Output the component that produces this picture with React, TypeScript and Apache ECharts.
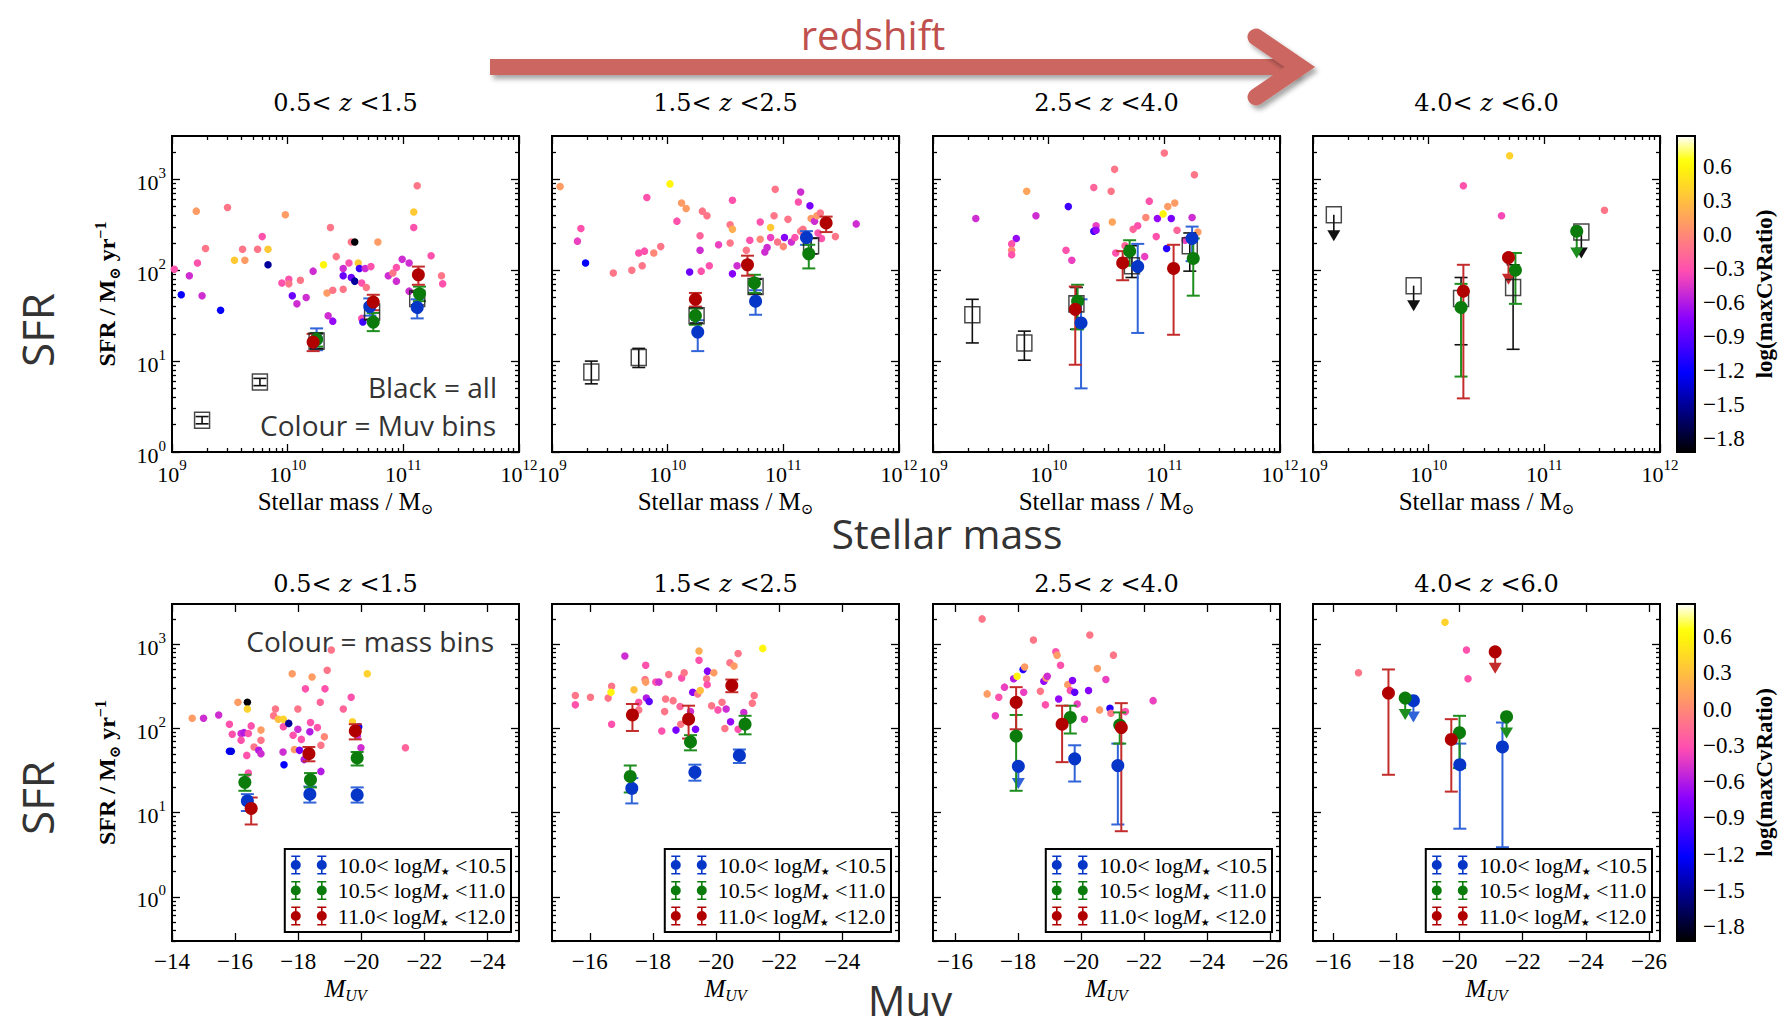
import React, { useEffect, useRef } from 'react';
import * as echarts from 'echarts';

const W = 1783;
const H = 1031;
const SERIF = "'Liberation Serif', 'DejaVu Serif', serif";
const TITLE_SERIF = "'DejaVu Serif', 'Liberation Serif', serif";
const SANS = "'Open Sans', 'Liberation Sans', sans-serif";

// ---------------- axes, ticks, labels ----------------
const MASS_RANGE = [9, 12]; // log10 stellar mass
const MASS_TICKS = [9, 10, 11, 12];
const SFR_TOP_RANGE = [0, 3.477]; // log10 SFR
const SFR_BOT_RANGE = [-0.523, 3.477];
const SFR_TICKS = [0, 1, 2, 3];
const MUV_RANGES = [[-25, -14], [-25.8, -14.8], [-26.32, -15.3], [-26.35, -15.36]];
const MUV_TICKS = [
  [-14, -16, -18, -20, -22, -24],
  [-16, -18, -20, -22, -24],
  [-16, -18, -20, -22, -24, -26],
  [-16, -18, -20, -22, -24, -26],
];
const CBAR_RANGE = [-1.92, 0.87];
const CBAR_TICKS = [-1.8, -1.5, -1.2, -0.9, -0.6, -0.3, 0, 0.3, 0.6];
const Z_TITLES = [['0.5', '1.5'], ['1.5', '2.5'], ['2.5', '4.0'], ['4.0', '6.0']];
const MASS_NAMES = ['10.0< logM⋆ <10.5', '10.5< logM⋆ <11.0', '11.0< logM⋆ <12.0'];

// ---------------- data: individual galaxies [x, logSFR, log(maxCvRatio)] ----------------
const top1Dots = [
  [9.02, 2.01, -0.3], [9.08, 1.73, -1.2], [9.15, 1.94, -0.5], [9.21, 2.65, 0.1], [9.22, 2.08, -0.3],
  [9.26, 1.72, -0.5], [9.29, 2.24, -0.1], [9.42, 1.56, -1.2], [9.48, 2.69, -0.1], [9.54, 2.11, 0.35],
  [9.61, 2.23, -0.1], [9.63, 2.11, 0.1], [9.74, 2.23, -0.1], [9.78, 2.37, -0.3], [9.83, 2.23, 0.35],
  [9.83, 2.06, -1.5], [9.98, 2.61, 0.1], [9.95, 1.86, -0.3], [10.01, 1.9, -0.3], [10.01, 1.85, -0.1],
  [10.04, 1.72, -0.85], [10.08, 1.63, -0.5], [10.11, 1.89, -0.1], [10.16, 1.7, -0.5], [10.22, 1.99, -0.5],
  [10.31, 2.06, 0.6], [10.34, 1.75, 0.1], [10.35, 1.5, -0.5], [10.39, 1.44, -0.7], [10.37, 2.47, -0.1],
  [10.42, 2.15, -0.1], [10.39, 1.78, -0.1], [10.48, 2.02, -0.5], [10.48, 1.94, -0.85], [10.48, 1.79, -0.1],
  [10.53, 2.08, -0.3], [10.55, 2.31, -0.1], [10.58, 2.31, -1.9], [10.55, 1.92, -0.85], [10.58, 1.88, -1.5],
  [10.61, 2.08, 0.35], [10.62, 2.02, -1.0], [10.64, 1.86, -0.3], [10.67, 2.02, -0.5], [10.68, 1.81, -0.1],
  [10.72, 2.04, -0.3], [10.78, 2.31, 0.1], [10.64, 1.47, -0.3], [10.65, 1.43, -1.0], [10.87, 1.94, -0.5],
  [10.91, 1.97, -0.1], [10.94, 2.03, -0.3], [10.94, 1.88, -0.5], [10.99, 2.12, -0.5], [11.05, 2.08, -0.5],
  [11.05, 1.77, -0.5], [11.09, 2.47, -0.3], [11.09, 2.64, 0.35], [11.12, 2.93, -0.1], [11.24, 2.16, -0.3],
  [11.33, 1.94, -0.1], [11.34, 1.85, -0.3],
];
const top2Dots = [
  [9.07, 2.92, 0.1], [9.25, 2.46, -0.3], [9.22, 2.32, -0.4], [9.29, 2.08, -1.2], [9.53, 1.97, -0.1],
  [9.69, 2.0, -0.1], [9.75, 2.19, -0.3], [9.78, 2.05, -0.1], [9.8, 2.21, -0.3], [9.82, 2.8, -0.3],
  [9.88, 2.19, 0.0], [9.94, 2.26, -0.1], [10.02, 2.95, 0.6], [10.08, 2.54, -0.3], [10.12, 2.74, 0.1],
  [10.16, 2.68, 0.1], [10.19, 1.98, -0.85], [10.28, 2.22, -0.5], [10.28, 2.38, -0.2], [10.29, 1.99, -0.3],
  [10.3, 2.65, -0.1], [10.34, 2.6, -0.1], [10.36, 2.05, -0.3], [10.44, 2.28, -0.4], [10.54, 2.3, -0.1],
  [10.54, 2.5, -0.1], [10.56, 2.77, -0.3], [10.56, 2.45, 0.2], [10.56, 1.96, -0.75], [10.6, 2.05, -0.5],
  [10.68, 2.22, -0.1], [10.71, 2.33, -0.3], [10.8, 2.53, -0.3], [10.8, 2.34, 0.0], [10.84, 2.2, -0.5],
  [10.86, 2.25, -0.5], [10.89, 2.47, 0.35], [10.89, 2.36, -0.4], [10.92, 2.6, -0.1], [10.93, 2.89, -0.1],
  [10.95, 2.31, -0.1], [11.0, 2.26, 0.0], [11.01, 2.36, -0.75], [11.04, 2.56, -0.1], [11.07, 2.31, -0.5],
  [11.1, 2.36, -0.3], [11.13, 2.75, -0.3], [11.15, 2.86, -0.5], [11.15, 2.43, -0.1], [11.17, 2.45, -0.1],
  [11.23, 2.71, -0.8], [11.24, 2.57, 0.1], [11.27, 2.54, -0.5], [11.29, 2.6, 0.1], [11.3, 2.41, -0.3],
  [11.32, 2.63, -0.1], [11.33, 2.35, -0.3], [11.45, 2.37, -0.1], [11.63, 2.51, -0.5],
];
const top3Dots = [
  [9.37, 2.57, -0.5], [9.72, 2.35, -0.7], [9.68, 2.29, -0.3], [9.68, 2.22, 0.0], [9.68, 2.17, -0.3],
  [9.81, 2.87, 0.15], [9.89, 2.6, -0.5], [10.15, 2.22, -0.3], [10.17, 2.7, -1.0], [10.2, 2.11, -0.4],
  [10.39, 2.91, -0.2], [10.41, 2.49, -0.4], [10.39, 2.43, -1.0], [10.41, 2.44, -0.7], [10.54, 2.87, -0.1],
  [10.55, 2.53, 0.15], [10.57, 3.11, -0.1], [10.58, 2.19, -0.3], [10.66, 2.27, -0.2], [10.73, 2.45, -0.2],
  [10.77, 2.49, -0.3], [10.83, 2.15, -0.4], [10.84, 2.58, 0.0], [10.87, 2.76, -0.3], [10.93, 2.37, -0.3],
  [10.94, 2.57, -0.7], [10.99, 2.62, 0.6], [11.0, 3.29, -0.1], [11.02, 2.24, -1.1], [11.03, 2.7, 0.1],
  [11.06, 2.57, -0.8], [11.09, 2.74, 0.1], [11.11, 2.44, -0.2], [11.18, 2.33, -0.4], [11.24, 2.58, -0.5],
  [11.26, 3.05, -0.1], [11.29, 2.42, 0.1],
];
const top4Dots = [[10.3, 2.93, -0.3], [10.63, 2.6, -0.35], [10.7, 3.26, 0.4], [11.52, 2.66, -0.1]];

const bot1Dots = [
  [-14.64, 2.12, 0.1], [-15.0, 2.12, -0.5], [-15.48, 2.16, -0.5], [-15.82, 2.05, -0.3], [-15.82, 1.73, -1.2],
  [-15.88, 1.73, -1.3], [-15.91, 1.93, -0.3], [-16.09, 2.31, 0.1], [-16.19, 1.94, -0.5], [-16.19, 1.86, -0.3],
  [-16.28, 1.95, -0.6], [-16.39, 2.31, -1.9], [-16.39, 2.23, 0.4], [-16.42, 1.94, -0.3], [-16.51, 2.03, -0.3],
  [-16.37, 1.68, -0.3], [-16.42, 1.47, -0.3], [-16.6, 1.78, -0.1], [-16.75, 1.74, -0.6], [-16.82, 1.98, 0.1],
  [-16.82, 1.86, -0.1], [-16.82, 1.7, -0.5], [-17.28, 2.23, -0.1], [-17.22, 2.15, -0.1], [-17.37, 2.11, 0.3],
  [-17.52, 1.72, -0.5], [-17.53, 2.02, -0.3], [-17.53, 2.11, 0.4], [-17.55, 1.57, -1.2], [-17.7, 2.06, -1.5],
  [-17.81, 2.65, 0.1], [-17.84, 1.92, -0.3], [-17.88, 1.75, 0.1], [-17.99, 2.23, -0.1], [-17.99, 1.99, -0.5],
  [-18.04, 1.74, -0.8], [-18.1, 1.87, -0.3], [-18.19, 1.63, -0.6], [-18.23, 2.47, -0.3], [-18.39, 2.07, -0.3],
  [-18.37, 1.96, -0.6], [-18.44, 2.61, 0.1], [-18.61, 2.01, -0.3], [-18.7, 2.31, -0.2], [-18.72, 1.8, -0.1],
  [-18.72, 1.49, -0.6], [-18.83, 1.9, 0.0], [-18.85, 2.47, -0.3], [-18.92, 2.69, -0.1], [-19.05, 2.93, -0.1],
  [-19.43, 2.23, -0.2], [-19.68, 2.37, -0.3], [-19.72, 2.08, 0.4], [-19.88, 1.91, -0.5], [-19.92, 2.02, -1.2],
  [-19.99, 1.77, -0.5], [-20.19, 2.65, 0.4], [-21.4, 1.77, -0.2],
];
const bot2Dots = [
  [-15.54, 2.39, -0.1], [-15.54, 2.28, -0.3], [-16.02, 2.37, -0.1], [-16.58, 2.36, -0.1], [-16.69, 2.5, -0.1],
  [-16.69, 2.05, -0.3], [-16.67, 2.43, 0.6], [-17.11, 2.86, -0.5], [-17.4, 2.46, 0.3], [-17.55, 2.31, -0.3],
  [-17.55, 2.22, -0.1], [-17.77, 2.75, -0.3], [-17.79, 2.36, -0.6], [-17.88, 2.32, -0.9], [-17.75, 2.58, -0.1],
  [-17.77, 2.55, 0.1], [-18.09, 2.55, -0.3], [-18.19, 2.55, -0.5], [-18.28, 1.97, -0.3], [-18.37, 2.2, -0.1],
  [-18.4, 2.35, -0.1], [-18.5, 2.64, -0.1], [-18.64, 2.33, -0.1], [-18.73, 1.98, -0.8], [-18.86, 2.26, -0.2],
  [-18.91, 2.6, -0.3], [-18.99, 2.66, -0.1], [-18.88, 2.05, -0.1], [-19.19, 2.2, -0.5], [-19.26, 2.43, -0.75],
  [-19.35, 1.99, -0.8], [-19.42, 2.41, -0.1], [-19.46, 2.92, 0.2], [-19.46, 2.81, -0.3], [-19.5, 2.45, 0.3],
  [-19.7, 2.59, -0.1], [-19.73, 2.68, -0.75], [-19.72, 2.52, -0.3], [-19.86, 2.27, -0.1], [-19.93, 2.66, 0.1],
  [-20.06, 2.22, -0.3], [-20.19, 2.31, -0.1], [-20.32, 2.23, -0.5], [-20.28, 2.0, -0.1], [-20.44, 2.78, -0.1],
  [-20.46, 2.08, -0.7], [-20.57, 2.74, 0.1], [-20.7, 2.89, -0.1], [-20.7, 1.99, -0.3], [-20.88, 2.19, -0.5],
  [-21.15, 2.3, -0.1], [-21.21, 2.39, -0.1], [-21.48, 2.95, 0.6],
];
const bot3Dots = [
  [-16.86, 3.3, -0.1], [-17.02, 2.41, 0.1], [-17.28, 2.15, -0.4], [-17.39, 2.37, -0.3], [-17.57, 2.49, -0.4],
  [-17.86, 2.59, -0.6], [-17.97, 2.62, 0.6], [-18.16, 2.7, -1.1], [-18.21, 2.73, 0.1], [-18.18, 2.43, -0.4],
  [-18.49, 3.05, -0.1], [-18.71, 2.44, -0.1], [-18.82, 2.56, -0.7], [-18.89, 2.6, 0.1], [-18.93, 2.62, -0.5],
  [-18.87, 2.28, -0.3], [-19.2, 2.91, -0.3], [-19.24, 2.87, 0.1], [-19.35, 2.75, -0.3], [-19.29, 2.35, -0.7],
  [-19.58, 2.52, 0.1], [-19.66, 2.45, -0.3], [-19.73, 2.57, -0.75], [-19.8, 2.43, -0.9], [-19.88, 2.29, -0.4],
  [-20.11, 2.11, -0.4], [-20.24, 2.45, -0.75], [-20.28, 3.11, -0.1], [-20.52, 2.71, 0.1], [-20.59, 2.22, 0.1],
  [-20.79, 2.58, -0.4], [-20.92, 2.24, -1.1], [-20.95, 2.18, -0.1], [-21.03, 2.87, -0.1], [-21.41, 2.2, -0.3],
  [-22.29, 2.33, -0.4],
];
const bot4Dots = [[-16.8, 2.66, -0.1], [-19.54, 3.26, 0.4], [-20.22, 2.93, -0.3], [-20.27, 2.59, -0.3]];

// ---------------- data: binned medians [x, logSFR, lo, hi, upperLimit, class] ----------------
// class: 0 = all (black squares), 1 = blue, 2 = green, 3 = red
const top1Bins = [
  [9.26, 0.35, 0.31, 0.39, 0, 0], [9.76, 0.77, 0.73, 0.81, 0, 0], [10.25, 1.22, 1.14, 1.3, 0, 0],
  [10.73, 1.54, 1.46, 1.62, 0, 0], [11.12, 1.69, 1.62, 1.76, 0, 0],
  [10.25, 1.24, 1.12, 1.36, 0, 1], [10.71, 1.6, 1.5, 1.69, 0, 1], [11.12, 1.59, 1.47, 1.68, 0, 1],
  [10.25, 1.24, 1.16, 1.31, 0, 2], [10.74, 1.43, 1.33, 1.53, 0, 2], [11.14, 1.74, 1.66, 1.82, 0, 2],
  [10.22, 1.21, 1.11, 1.3, 0, 3], [10.74, 1.65, 1.56, 1.73, 0, 3], [11.13, 1.95, 1.84, 2.04, 0, 3],
];
const top2Bins = [
  [9.34, 0.88, 0.75, 1.0, 0, 0], [9.75, 1.04, 0.93, 1.14, 0, 0], [10.25, 1.5, 1.42, 1.58, 0, 0],
  [10.76, 1.82, 1.74, 1.9, 0, 0], [11.24, 2.27, 2.18, 2.35, 0, 0],
  [10.26, 1.32, 1.11, 1.45, 0, 1], [10.76, 1.66, 1.51, 1.78, 0, 1], [11.2, 2.36, 2.28, 2.43, 0, 1],
  [10.24, 1.5, 1.4, 1.58, 0, 2], [10.75, 1.86, 1.75, 1.95, 0, 2], [11.22, 2.18, 2.02, 2.28, 0, 2],
  [10.24, 1.68, 1.6, 1.75, 0, 3], [10.69, 2.06, 1.94, 2.16, 0, 3], [11.37, 2.52, 2.42, 2.59, 0, 3],
];
const top3Bins = [
  [9.34, 1.51, 1.2, 1.68, 0, 0], [9.79, 1.2, 1.01, 1.33, 0, 0], [10.24, 1.63, 1.35, 1.81, 0, 0],
  [10.72, 2.05, 1.92, 2.27, 0, 0], [11.22, 2.27, 1.99, 2.41, 0, 0],
  [10.28, 1.42, 0.7, 1.68, 0, 1], [10.77, 2.04, 1.31, 2.29, 0, 1], [11.24, 2.35, 2.1, 2.48, 0, 1],
  [10.25, 1.66, 1.35, 1.84, 0, 2], [10.7, 2.21, 2.05, 2.33, 0, 2], [11.25, 2.13, 1.72, 2.35, 0, 2],
  [10.23, 1.57, 0.96, 1.82, 0, 3], [10.64, 2.08, 1.89, 2.21, 0, 3], [11.08, 2.02, 1.29, 2.28, 0, 3],
];
const top4Bins = [
  [9.18, 2.61, 2.32, 2.61, 1, 0], [9.87, 1.83, 1.55, 1.83, 1, 0], [10.28, 1.69, 1.18, 1.92, 0, 0],
  [10.73, 1.81, 1.13, 2.06, 0, 0], [11.32, 2.42, 2.13, 2.42, 1, 0],
  [10.28, 1.59, 0.83, 1.85, 0, 2], [10.75, 2.0, 1.63, 2.19, 0, 2], [11.28, 2.43, 2.13, 2.43, 1, 2],
  [10.3, 1.77, 0.59, 2.06, 0, 3], [10.69, 2.14, 1.84, 2.14, 1, 3],
];
const bot1Bins = [
  [-16.39, 1.14, 1.02, 1.22, 0, 1], [-18.37, 1.22, 1.12, 1.31, 0, 1], [-19.87, 1.21, 1.12, 1.3, 0, 1],
  [-16.31, 1.36, 1.26, 1.45, 0, 2], [-18.39, 1.39, 1.3, 1.47, 0, 2], [-19.87, 1.65, 1.56, 1.72, 0, 2],
  [-16.51, 1.05, 0.86, 1.18, 0, 3], [-18.34, 1.7, 1.61, 1.78, 0, 3], [-19.81, 1.97, 1.87, 2.05, 0, 3],
];
const bot2Bins = [
  [-17.33, 1.29, 1.11, 1.41, 0, 1], [-19.33, 1.48, 1.38, 1.57, 0, 1], [-20.74, 1.68, 1.59, 1.75, 0, 1],
  [-17.28, 1.43, 1.24, 1.56, 0, 2], [-19.19, 1.84, 1.74, 1.92, 0, 2], [-20.92, 2.05, 1.93, 2.15, 0, 2],
  [-17.35, 2.16, 1.97, 2.29, 0, 3], [-19.13, 2.11, 1.88, 2.27, 0, 3], [-20.5, 2.51, 2.43, 2.58, 0, 3],
];
const bot3Bins = [
  [-18.01, 1.55, 1.28, 1.55, 1, 1], [-19.8, 1.64, 1.37, 1.8, 0, 1], [-21.17, 1.56, 0.86, 1.82, 0, 1],
  [-17.94, 1.91, 1.26, 2.16, 0, 2], [-19.66, 2.13, 1.94, 2.27, 0, 2], [-21.23, 2.04, 1.82, 2.19, 0, 2],
  [-17.94, 2.31, 1.99, 2.49, 0, 3], [-19.4, 2.05, 1.6, 2.27, 0, 3], [-21.28, 2.01, 0.78, 2.3, 0, 3],
];
const bot4Bins = [
  [-18.54, 2.33, 2.07, 2.33, 1, 1], [-20.01, 1.57, 0.81, 1.82, 0, 1], [-21.36, 1.78, 0.59, 2.07, 0, 1],
  [-18.28, 2.36, 2.1, 2.36, 1, 2], [-20.0, 1.95, 1.53, 2.15, 0, 2], [-21.49, 2.14, 1.88, 2.14, 1, 2],
  [-17.75, 2.42, 1.45, 2.7, 0, 3], [-19.74, 1.87, 1.25, 2.11, 0, 3], [-21.13, 2.91, 2.65, 2.91, 1, 3],
];

const TOP_DOTS = [top1Dots, top2Dots, top3Dots, top4Dots];
const BOT_DOTS = [bot1Dots, bot2Dots, bot3Dots, bot4Dots];
const TOP_BINS = [top1Bins, top2Bins, top3Bins, top4Bins];
const BOT_BINS = [bot1Bins, bot2Bins, bot3Bins, bot4Bins];

// ---------------- layout & style ----------------
const PANEL_LEFT = [172, 552, 933, 1313];
const PANEL_W = 347;
const ROW_TOP = [136, 604];
const ROW_H = [316, 337];
const CBAR_LEFT = 1677;
const CBAR_W = 18;
const MARK = ['#111111', '#0636c8', '#0b7b0b', '#b00000'];
const ERR = ['#111111', '#3064d8', '#1e8e1e', '#c42c2c'];
const ARROW = '#cc6660';
const SLIDE_TEXT = '#333333';

function gnuplot2(t: number): string {
  const c = (v: number) => Math.round(255 * Math.max(0, Math.min(1, v)));
  const r = t / 0.32 - 0.78125;
  const g = 2 * t - 0.84;
  const b = t < 0.25 ? 4 * t : t < 0.92 ? -2 * t + 1.84 : t / 0.08 - 11.5;
  return `rgb(${c(r)},${c(g)},${c(b)})`;
}
const CMAP = Array.from({ length: 41 }, (_, i) => gnuplot2(i / 40));

function minorLog(range: number[]): number[] {
  const out: number[] = [];
  for (let d = Math.floor(range[0]); d <= Math.floor(range[1]); d++) {
    for (let k = 2; k <= 9; k++) {
      const v = d + Math.log10(k);
      if (v > range[0] + 1e-6 && v < range[1] - 1e-6) out.push(v);
    }
  }
  return out;
}

const POW_RICH = {
  b: { fontFamily: SERIF, fontSize: 22, color: '#000', lineHeight: 28, verticalAlign: 'bottom' },
  p: { fontFamily: SERIF, fontSize: 15, color: '#000', lineHeight: 17, verticalAlign: 'top' },
};
const powFmt = (v: number) => `{b|10}{p|${Math.round(v)}}`;
const minusFmt = (v: number) => (v < 0 ? '\u2212' + Math.abs(v) : String(v));

function mkAxis(gridIndex: number, range: number[], position: string, ticks: number[], len: number, extra: any = {}) {
  return {
    type: 'value',
    gridIndex,
    position,
    min: range[0],
    max: range[1],
    axisLine: { show: false, onZero: false },
    splitLine: { show: false },
    axisTick: { show: true, inside: true, length: len, customValues: ticks, lineStyle: { color: '#000', width: 1.3 } },
    axisLabel: { show: false },
    ...extra,
  };
}

function renderErr(params: any, api: any) {
  const x = api.value(0);
  const y = api.value(1);
  const lo = api.value(2);
  const hi = api.value(3);
  const ul = api.value(4);
  const cls = api.value(5);
  const c = ERR[cls];
  const st = { stroke: c, lineWidth: cls === 0 ? 1.6 : 2 };
  const p = api.coord([x, y]);
  if (ul) {
    const t = api.coord([x, lo]);
    return {
      type: 'group',
      children: [
        { type: 'line', shape: { x1: p[0], y1: p[1], x2: t[0], y2: t[1] - 9 }, style: st },
        { type: 'polygon', shape: { points: [[t[0] - 6.5, t[1] - 11], [t[0] + 6.5, t[1] - 11], [t[0], t[1]]] }, style: { fill: c } },
      ],
    };
  }
  const a = api.coord([x, hi]);
  const b = api.coord([x, lo]);
  const cw = 6.5;
  return {
    type: 'group',
    children: [
      { type: 'line', shape: { x1: a[0], y1: a[1], x2: b[0], y2: b[1] }, style: st },
      { type: 'line', shape: { x1: a[0] - cw, y1: a[1], x2: a[0] + cw, y2: a[1] }, style: st },
      { type: 'line', shape: { x1: b[0] - cw, y1: b[1], x2: b[0] + cw, y2: b[1] }, style: st },
    ],
  };
}

const LEG_ICON =
  'path://M1 0H10V1.6H1Z M4.7 0H6.3V19H4.7Z M1 17.4H10V19H1Z M0.5 9.5A5 5 0 1 1 10.5 9.5A5 5 0 1 1 0.5 9.5Z ' +
  'M27 0H36V1.6H27Z M30.7 0H32.3V19H30.7Z M27 17.4H36V19H27Z M26.5 9.5A5 5 0 1 1 36.5 9.5A5 5 0 1 1 26.5 9.5Z';
const LEG_RICH = {
  f: { fontFamily: SERIF, fontSize: 22, color: '#000', lineHeight: 22, padding: [0, 0, 0, 6] },
  a: { fontFamily: SERIF, fontSize: 22, color: '#000', lineHeight: 22 },
  i: { fontFamily: SERIF, fontSize: 22, fontStyle: 'italic', color: '#000', lineHeight: 22 },
  s: { fontFamily: "'DejaVu Sans', sans-serif", fontSize: 10, color: '#000', lineHeight: 12, verticalAlign: 'bottom' },
};
const legFmt = (name: string) => {
  const m = name.match(/^(.*)< logM⋆ <(.*)$/);
  if (!m) return name;
  return `{f|${m[1]}< log}{i|M}{s|\u2605}{a| <${m[2]}}`;
};

function buildOption() {
  const grid: any[] = [];
  const xAxis: any[] = [];
  const yAxis: any[] = [];
  const series: any[] = [];
  const legend: any[] = [];
  const dotSeries: number[] = [];

  for (let row = 0; row < 2; row++) {
    for (let col = 0; col < 4; col++) {
      const gi = grid.length;
      const left = PANEL_LEFT[col];
      grid.push({
        left, top: ROW_TOP[row], width: PANEL_W, height: ROW_H[row],
        show: true, borderColor: '#000', borderWidth: 2, backgroundColor: 'transparent',
      });
      const xr = row === 0 ? MASS_RANGE : MUV_RANGES[col];
      const yr = row === 0 ? SFR_TOP_RANGE : SFR_BOT_RANGE;
      const inv = row === 1;
      const xMajor = row === 0 ? MASS_TICKS : MUV_TICKS[col];
      const xMinor = row === 0 ? minorLog(xr) : [];
      const yMinor = minorLog(yr);

      const xi = xAxis.length;
      const xLabel =
        row === 0
          ? { show: true, customValues: xMajor, formatter: powFmt, rich: POW_RICH, margin: 5 }
          : { show: true, customValues: xMajor, formatter: minusFmt, fontFamily: SERIF, fontSize: 23, color: '#000', margin: 9 };
      const xName =
        row === 0
          ? {
              name: '{a|Stellar mass / M}{s|⊙}', nameLocation: 'middle', nameGap: 34,
              nameTextStyle: { rich: {
                a: { fontFamily: SERIF, fontSize: 25, color: '#000', lineHeight: 30 },
                s: { fontFamily: SERIF, fontSize: 15, color: '#000', lineHeight: 14, verticalAlign: 'bottom' },
              } },
            }
          : {
              name: '{i|M}{s|UV}', nameLocation: 'middle', nameGap: 32,
              nameTextStyle: { rich: {
                i: { fontFamily: SERIF, fontSize: 25, fontStyle: 'italic', color: '#000', lineHeight: 30 },
                s: { fontFamily: SERIF, fontSize: 16, fontStyle: 'italic', color: '#000', lineHeight: 14, verticalAlign: 'bottom' },
              } },
            };
      xAxis.push(mkAxis(gi, xr, 'bottom', xMajor, 8, { inverse: inv, axisLabel: xLabel, ...xName }));
      if (xMinor.length) xAxis.push(mkAxis(gi, xr, 'bottom', xMinor, 4, { inverse: inv }));
      xAxis.push(mkAxis(gi, xr, 'top', xMajor, 8, { inverse: inv }));
      if (xMinor.length) xAxis.push(mkAxis(gi, xr, 'top', xMinor, 4, { inverse: inv }));

      const yi = yAxis.length;
      const yExtra =
        col === 0
          ? {
              axisLabel: { show: true, customValues: SFR_TICKS, formatter: powFmt, rich: POW_RICH, margin: 6 },
              name: '{b|SFR / M}{s|⊙}{b| yr}{p|\u22121}', nameLocation: 'middle', nameGap: 50, nameRotate: 90,
              nameTextStyle: { rich: {
                b: { fontFamily: SERIF, fontSize: 24, fontWeight: 'bold', color: '#000', lineHeight: 30 },
                s: { fontFamily: SERIF, fontSize: 15, fontWeight: 'bold', color: '#000', lineHeight: 12, verticalAlign: 'bottom' },
                p: { fontFamily: SERIF, fontSize: 16, fontWeight: 'bold', color: '#000', lineHeight: 14, verticalAlign: 'top' },
              } },
            }
          : {};
      yAxis.push(mkAxis(gi, yr, 'left', SFR_TICKS, 8, yExtra));
      yAxis.push(mkAxis(gi, yr, 'left', yMinor, 4));
      yAxis.push(mkAxis(gi, yr, 'right', SFR_TICKS, 8));
      yAxis.push(mkAxis(gi, yr, 'right', yMinor, 4));

      const dots = row === 0 ? TOP_DOTS[col] : BOT_DOTS[col];
      const bins = row === 0 ? TOP_BINS[col] : BOT_BINS[col];

      dotSeries.push(series.length);
      series.push({
        type: 'scatter', name: `galaxies ${gi}`, xAxisIndex: xi, yAxisIndex: yi, data: dots,
        symbolSize: 7.5, z: 2, silent: true, itemStyle: { opacity: 1 },
      });
      series.push({
        type: 'custom', name: `errors ${gi}`, xAxisIndex: xi, yAxisIndex: yi, data: bins,
        renderItem: renderErr, z: 3, silent: true, clip: false,
      });
      const all = bins.filter((b) => b[5] === 0);
      if (all.length) {
        series.push({
          type: 'scatter', name: 'all', xAxisIndex: xi, yAxisIndex: yi, data: all.map((b) => [b[0], b[1]]),
          symbol: 'rect', symbolSize: [15, 16], z: 4, silent: true,
          itemStyle: { color: 'transparent', borderColor: '#1a1a1a', borderWidth: 1.5 },
        });
      }
      [1, 2, 3].forEach((c) => {
        const d = bins.filter((b) => b[5] === c);
        if (!d.length) return;
        series.push({
          type: 'scatter', name: row === 1 ? MASS_NAMES[c - 1] : `Muv bin ${c}`,
          xAxisIndex: xi, yAxisIndex: yi, data: d.map((b) => [b[0], b[1]]),
          symbolSize: 13, z: 5, silent: true, itemStyle: { color: MARK[c], opacity: 1 },
        });
      });

      if (row === 1) {
        legend.push({
          orient: 'vertical', right: W - (left + PANEL_W) + 8, top: 849,
          data: MASS_NAMES, icon: LEG_ICON, itemWidth: 36, itemHeight: 19, itemGap: 3.5,
          padding: [5, 5, 5, 6], borderColor: '#000', borderWidth: 2, borderRadius: 0,
          backgroundColor: '#fff', selectedMode: false, formatter: legFmt,
          textStyle: { fontFamily: SERIF, fontSize: 22, color: '#000', rich: LEG_RICH },
        });
      }
    }
  }

  // colourbars
  for (let row = 0; row < 2; row++) {
    const gi = grid.length;
    grid.push({ left: CBAR_LEFT, top: ROW_TOP[row], width: CBAR_W, height: ROW_H[row], show: false });
    xAxis.push({ type: 'value', gridIndex: gi, min: 0, max: 1, show: false });
    yAxis.push({
      type: 'value', gridIndex: gi, position: 'right', min: CBAR_RANGE[0], max: CBAR_RANGE[1],
      axisLine: { show: false, onZero: false }, splitLine: { show: false },
      axisTick: { show: true, inside: true, length: 5, customValues: CBAR_TICKS, lineStyle: { color: '#000', width: 1.3 } },
      axisLabel: {
        show: true, customValues: CBAR_TICKS, margin: 8, fontFamily: SERIF, fontSize: 23, color: '#000',
        formatter: (v: number) => (Math.abs(v) < 1e-9 ? '0.0' : (v < 0 ? '\u2212' : '') + Math.abs(v).toFixed(1)),
      },
      name: 'log(maxCvRatio)', nameLocation: 'middle', nameRotate: 90, nameGap: 58,
      nameTextStyle: { fontFamily: SERIF, fontSize: 23, fontWeight: 'bold', color: '#000' },
    });
  }

  const stops = CMAP.map((c, i) => ({ offset: i / (CMAP.length - 1), color: c }));
  const graphic: any[] = [];
  for (let row = 0; row < 2; row++) {
    graphic.push({
      type: 'rect', silent: true, z: 10,
      shape: { x: CBAR_LEFT, y: ROW_TOP[row], width: CBAR_W, height: ROW_H[row] },
      style: { fill: new echarts.graphic.LinearGradient(0, 1, 0, 0, stops), stroke: '#000', lineWidth: 2 },
    });
  }
  // redshift arrow
  graphic.push({
    type: 'rect', silent: true, z: 10,
    shape: { x: 490, y: 59, width: 808, height: 16 },
    style: { fill: ARROW, shadowBlur: 5, shadowOffsetX: 3, shadowOffsetY: 4, shadowColor: 'rgba(0,0,0,0.35)' },
  });
  graphic.push({
    type: 'polyline', silent: true, z: 10,
    shape: { points: [[1256, 37], [1300, 67], [1256, 97]] },
    style: { stroke: ARROW, lineWidth: 17, lineCap: 'round', lineJoin: 'miter', fill: null,
      shadowBlur: 5, shadowOffsetX: 3, shadowOffsetY: 4, shadowColor: 'rgba(0,0,0,0.35)' },
  });
  const txt = (text: string, x: number, y: number, size: number, fill: string, align: string, extra: any = {}) => ({
    type: 'text', silent: true, z: 20, x, y, ...extra,
    style: { text, fill, font: `${size}px ${SANS}`, fontSize: size, fontFamily: SANS, lineHeight: size,
      align, textAlign: align, verticalAlign: 'middle', textVerticalAlign: 'middle' },
  });
  graphic.push(txt('redshift', 873, 34, 40, '#c0504d', 'center'));
  graphic.push(txt('Stellar mass', 947, 533, 41, SLIDE_TEXT, 'center'));
  graphic.push(txt('Muv', 910, 999, 42, SLIDE_TEXT, 'center'));
  graphic.push(txt('SFR', 37, 330, 44, SLIDE_TEXT, 'center', { rotation: Math.PI / 2 }));
  graphic.push(txt('SFR', 37, 798, 44, SLIDE_TEXT, 'center', { rotation: Math.PI / 2 }));
  graphic.push(txt('Black = all', 497, 387, 28, SLIDE_TEXT, 'right'));
  graphic.push(txt('Colour = Muv bins', 496, 425, 28, SLIDE_TEXT, 'right'));
  graphic.push(txt('Colour = mass bins', 494, 641, 28, SLIDE_TEXT, 'right'));

  // panel titles
  for (let row = 0; row < 2; row++) {
    for (let col = 0; col < 4; col++) {
      const [a, b] = Z_TITLES[col];
      graphic.push({
        type: 'text', silent: true, z: 20,
        x: PANEL_LEFT[col] + PANEL_W / 2, y: row === 0 ? 103 : 584,
        style: {
          text: `{n|${a}< }{z|z}{n| <${b}}`,
          rich: {
            n: { fontFamily: TITLE_SERIF, fontSize: 24, fill: '#000', color: '#000' },
            z: { fontFamily: TITLE_SERIF, fontSize: 24, fontStyle: 'italic', fill: '#000', color: '#000' },
          },
          align: 'center', textAlign: 'center', verticalAlign: 'middle', textVerticalAlign: 'middle',
        },
      });
    }
  }

  return {
    animation: false,
    backgroundColor: '#ffffff',
    grid,
    xAxis,
    yAxis,
    series,
    legend,
    graphic: { elements: graphic },
    visualMap: [{
      type: 'continuous', show: false, min: CBAR_RANGE[0], max: CBAR_RANGE[1], dimension: 2,
      seriesIndex: dotSeries, inRange: { color: CMAP },
    }],
  };
}

export default function App() {
  const ref = useRef<HTMLDivElement>(null);
  useEffect(() => {
    document.body.style.margin = '0';
    const chart = echarts.init(ref.current as HTMLDivElement, null, { renderer: 'svg', width: W, height: H });
    chart.setOption(buildOption() as any);
    return () => chart.dispose();
  }, []);
  return <div ref={ref} style={{ width: W, height: H, background: '#fff' }} />;
}
